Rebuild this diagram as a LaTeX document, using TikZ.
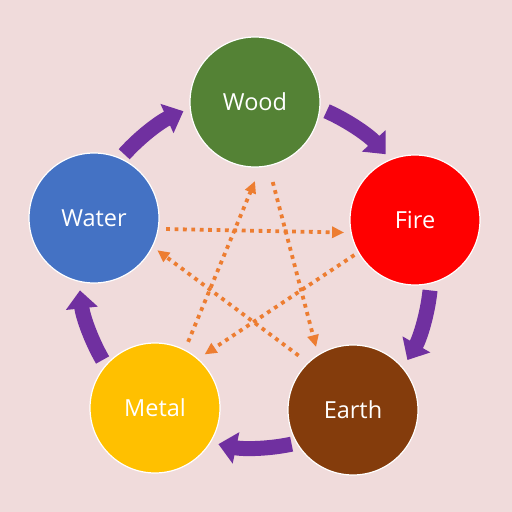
\documentclass[tikz,border=0pt]{standalone}
\usepackage{fontspec}
\setmainfont{Open Sans}
\usetikzlibrary{arrows.meta,calc}
\definecolor{bg}{RGB}{240,219,219}
\definecolor{woodc}{RGB}{84,130,53}
\definecolor{firec}{RGB}{255,0,0}
\definecolor{earthc}{RGB}{132,60,12}
\definecolor{metalc}{RGB}{255,192,0}
\definecolor{waterc}{RGB}{68,114,196}
\definecolor{purp}{RGB}{112,48,160}
\definecolor{orng}{RGB}{237,125,49}
\begin{document}
\begin{tikzpicture}[x=1pt,y=1pt,
  element/.style={circle,fill=#1,draw=white,line width=1.2pt,minimum size=130pt,inner sep=0pt,
    text=white,font=\fontsize{23.5}{27}\selectfont},
  cyclearrow/.style={purp,line width=15pt,-{Triangle[width=31pt,length=18pt]}},
  ctrlarrow/.style={orng,line width=3.8pt,dash pattern=on 3.8pt off 4.6pt,
    -{Triangle[width=11pt,length=12pt]}}]
\fill[bg] (0,0) rectangle (512,512);
\useasboundingbox (0,0) rectangle (512,512);
\coordinate (C) at (255,240);
\node[element=woodc] (Wood) at (255,410) {Wood};
\node[element=firec] (Fire) at (415,292) {Fire};
\node[element=earthc] (Earth) at (353,102) {Earth};
\node[element=metalc] (Metal) at (155,104) {Metal};
\node[element=waterc] (Water) at (94,294) {Water};
% generating cycle
\foreach \m in {126,54,-18,-90,-162}{
  \draw[cyclearrow] ([shift={(\m+12:176)}]C) arc[start angle=\m+12, end angle=\m-12, radius=176];
}
% controlling star
\draw[ctrlarrow] ($(Water)+(-8.7:73)$) -- ($(Fire)+(190:72)$);
\draw[ctrlarrow] ($(Wood)+(-77.5:82)$) -- ($(Earth)+(120.4:73)$);
\draw[ctrlarrow] ($(Fire)+(210:70)$) -- ($(Metal)+(47.2:73)$);
\draw[ctrlarrow] ($(Earth)+(135:77)$) -- ($(Water)+(-27:71)$);
\draw[ctrlarrow] ($(Metal)+(63.4:74)$) -- ($(Wood)+(-90:79)$);
\end{tikzpicture}
\end{document}
